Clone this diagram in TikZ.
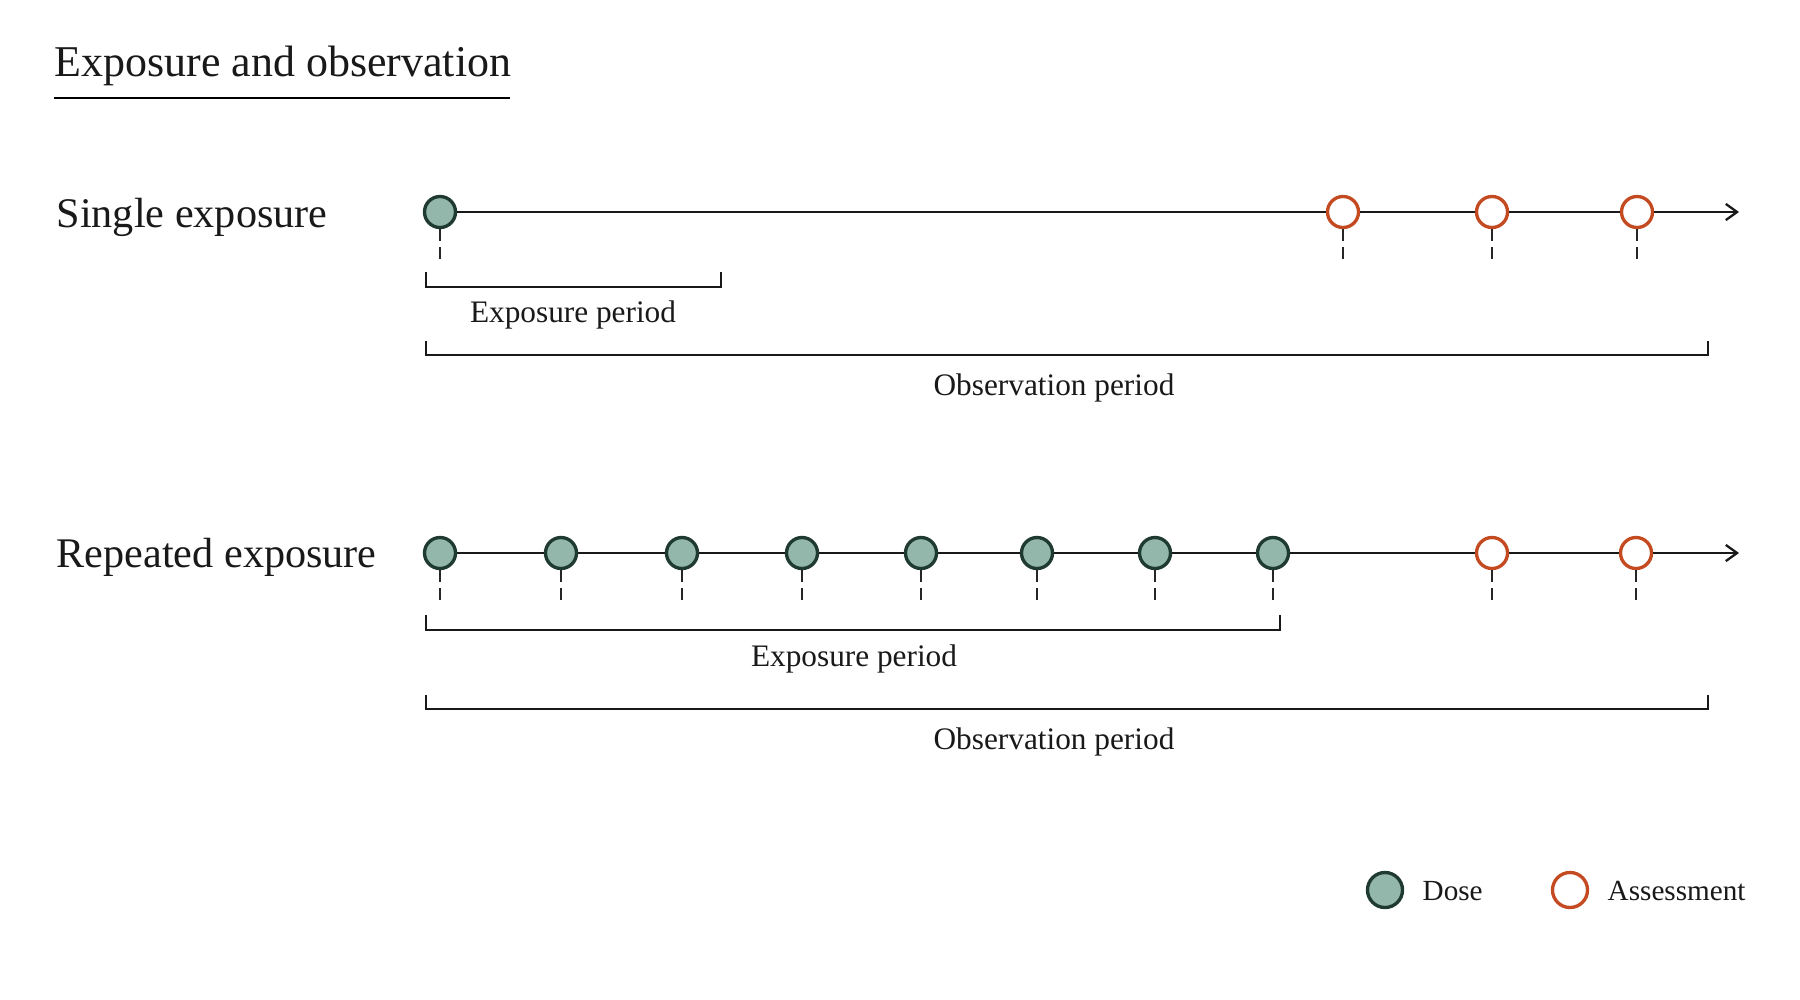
\documentclass[tikz,border=0pt]{standalone}
\usepackage{fontspec}
\setmainfont{Liberation Serif}
\usetikzlibrary{arrows.meta}
\definecolor{dosefill}{HTML}{93B7AB}
\definecolor{doseline}{HTML}{1F3A31}
\definecolor{assline}{HTML}{C44A22}
\begin{document}
\begin{tikzpicture}[x=0.01cm,y=-0.01cm,
  dose/.style={circle,draw=doseline,fill=dosefill,line width=0.95pt,minimum size=0.31cm,inner sep=0pt},
  assess/.style={circle,draw=assline,fill=white,line width=0.95pt,minimum size=0.31cm,inner sep=0pt},
  tline/.style={line width=0.65pt,black!90},
  tarrow/.style={tline,-{Straight Barb[length=3.2pt,width=4.6pt,line width=0.65pt]}},
  dashtick/.style={line width=0.75pt,black!85,dash pattern=on 3.3pt off 1.9pt},
  bracket/.style={line width=0.75pt,black!90},
  txt/.style={inner sep=0pt,text=black!90},
  rowlab/.style={txt,anchor=base west,font={\fontsize{12pt}{14pt}\selectfont}},
  perlab/.style={txt,anchor=base,font={\fontsize{8.9pt}{11pt}\selectfont}},
  leglab/.style={txt,anchor=base west,font={\fontsize{8.3pt}{10pt}\selectfont}}]
\fill[white] (0,0) rectangle (1800,1000);
\useasboundingbox (0,0) rectangle (1800,1000);

% title
\node[txt,anchor=base west,font={\fontsize{12.5pt}{15pt}\selectfont}] (title) at (54,77) {Exposure and observation};
\draw[line width=0.65pt] (54,98) -- (510,98);

% ---------- single exposure ----------
\node[rowlab] (singlelab) at (56,227) {Single exposure};
\node[dose] (s0) at (440,212) {};
\node[assess] (sa1) at (1343,212) {};
\node[assess] (sa2) at (1492,212) {};
\node[assess] (sa3) at (1637,212) {};
\coordinate (send) at (1739,212);
\draw[tline] (s0) -- (sa1);
\draw[tline] (sa1) -- (sa2);
\draw[tline] (sa2) -- (sa3);
\draw[tarrow] (sa3) -- (send);
\foreach \n in {s0,sa1,sa2,sa3} \draw[dashtick] (\n.south) -- ++(0,30);

\draw[bracket] (426,272) |- (721,287) -- (721,272);
\node[perlab] (sexp) at (573,322) {Exposure period};
\draw[bracket] (426,341) |- (1708,355) -- (1708,341);
\node[perlab] (sobs) at (1054,395) {Observation period};

% ---------- repeated exposure ----------
\node[rowlab] (replab) at (56,567) {Repeated exposure};
\foreach \x [count=\i] in {440,561,682,802,921,1037,1155,1273} \node[dose] (r\i) at (\x,553) {};
\node[assess] (ra1) at (1492,553) {};
\node[assess] (ra2) at (1636,553) {};
\coordinate (rend) at (1739,553);
\foreach \i [evaluate=\i as \j using int(\i+1)] in {1,...,7} \draw[tline] (r\i) -- (r\j);
\draw[tline] (r8) -- (ra1);
\draw[tline] (ra1) -- (ra2);
\draw[tarrow] (ra2) -- (rend);
\foreach \n in {r1,r2,r3,r4,r5,r6,r7,r8,ra1,ra2} \draw[dashtick] (\n.south) -- ++(0,30);

\draw[bracket] (426,615) |- (1280,630) -- (1280,615);
\node[perlab] (rexp) at (854,666) {Exposure period};
\draw[bracket] (426,695) |- (1708,709) -- (1708,695);
\node[perlab] (robs) at (1054,749) {Observation period};

% ---------- legend ----------
\node[dose,minimum size=0.35cm] (ldose) at (1385,890) {};
\node[leglab] (ldoset) at (1422,900) {Dose};
\node[assess,minimum size=0.35cm] (lass) at (1570,890) {};
\node[leglab] (lasst) at (1607,900) {Assessment};
\end{tikzpicture}
\end{document}
